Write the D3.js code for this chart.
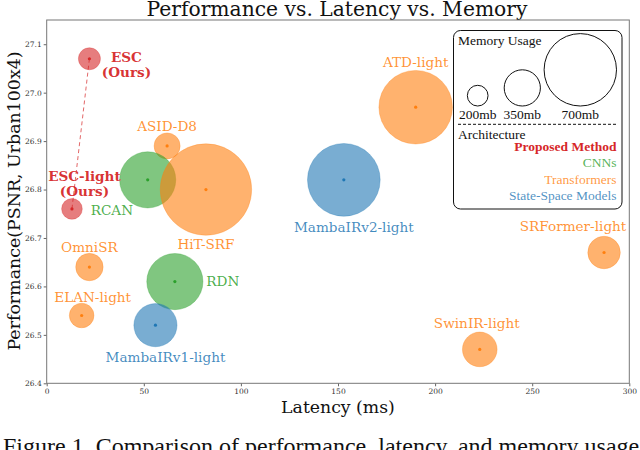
<!DOCTYPE html>
<html><head><meta charset="utf-8">
<script src="https://cdn.jsdelivr.net/npm/d3@7"></script>
<style>body{margin:0;background:#fff}svg{display:block}</style>
</head><body>
<svg id="c" width="640" height="450"></svg>
<script>
// ---- data ----
const models  = ["ESC","ESC-light","ASID-D8","RCAN","HiT-SRF","MambaIRv2-light","ATD-light","OmniSR","ELAN-light","RDN","MambaIRv1-light","SRFormer-light","SwinIR-light"];
const latency = [22, 13, 62, 52, 82, 153, 190, 22, 18, 66, 56, 287, 223];
const psnr    = [27.07, 26.76, 26.89, 26.82, 26.80, 26.82, 26.97, 26.64, 26.54, 26.61, 26.52, 26.67, 26.47];
const memory  = [213, 200, 252, 543, 884, 703, 711, 265, 238, 543, 417, 314, 335];
const arch    = ["Proposed Method","Proposed Method","Transformers","CNNs","Transformers","State-Space Models","Transformers","Transformers","Transformers","CNNs","State-Space Models","Transformers","Transformers"];
const archNames = ["Proposed Method","CNNs","Transformers","State-Space Models"];
const memLegend = [200, 350, 700];
const xTicks = [0, 50, 100, 150, 200, 250, 300];
const yTicks = [26.4, 26.5, 26.6, 26.7, 26.8, 26.9, 27.0, 27.1];

// ---- layout (label offsets from bubble centre, px) ----
const labelLayout = {
  "ESC": {dx: 37, dy: -1.5, anchor: "middle", lines: ["ESC","(Ours)"]},
  "ESC-light": {dx: 12.5, dy: -33, anchor: "middle", lines: ["ESC-light","(Ours)"]},
  "ASID-D8": {dx: 0, dy: -19.5, anchor: "middle"},
  "RCAN": {dx: -57, dy: 30.5, anchor: "start"},
  "HiT-SRF": {dx: 0, dy: 54.5, anchor: "middle"},
  "MambaIRv2-light": {dx: 10, dy: 47, anchor: "middle"},
  "ATD-light": {dx: 0, dy: -45, anchor: "middle"},
  "OmniSR": {dx: 0, dy: -19.7, anchor: "middle"},
  "ELAN-light": {dx: 11, dy: -18.4, anchor: "middle"},
  "RDN": {dx: 31.5, dy: -1, anchor: "start"},
  "MambaIRv1-light": {dx: 10, dy: 32, anchor: "middle"},
  "SRFormer-light": {dx: -31, dy: -26.8, anchor: "middle"},
  "SwinIR-light": {dx: -3, dy: -26.8, anchor: "middle"}
};

const colors = d3.scaleOrdinal().domain(archNames).range(["#d62728","#2ca02c","#ff7f0e","#1f77b4"]);

const svg = d3.select("#c");
const serif = "'DejaVu Serif', serif";
const times = "'Liberation Serif', 'Times New Roman', serif";

const x = d3.scaleLinear().domain([0, 300]).range([46.7, 629.3]);
const y = d3.scaleLinear().domain([26.4, 27.15]).range([383.3, 20]);
const r = d3.scaleLinear().domain([0, 700]).range([0, 36.2]);

// title
svg.append("text").attr("x", 337).attr("y", 16).attr("text-anchor", "middle")
  .attr("font-family", serif).attr("font-size", 20.3).attr("fill", "#111")
  .text("Performance vs. Latency vs. Memory");

// axes
const gx = svg.append("g").attr("transform", "translate(0,383.3)")
  .call(d3.axisBottom(x).tickValues(xTicks).tickSize(3).tickPadding(2).tickFormat(d3.format("d")));
const gy = svg.append("g").attr("transform", "translate(46.7,0)")
  .call(d3.axisLeft(y).tickValues(yTicks).tickSize(3).tickPadding(2).tickFormat(d3.format(".1f")));
[gx, gy].forEach(g => {
  g.select(".domain").remove();
  g.selectAll("line").attr("stroke", "#666");
  g.selectAll("text").attr("font-family", serif).attr("font-size", 7.5).attr("fill", "#333");
});
svg.append("rect").attr("x", x(0)).attr("y", y(27.15)).attr("width", x(300) - x(0)).attr("height", y(26.4) - y(27.15))
  .attr("fill", "none").attr("stroke", "#777").attr("stroke-width", 1);

// axis labels
svg.append("text").attr("x", 338).attr("y", 413).attr("text-anchor", "middle")
  .attr("font-family", serif).attr("font-size", 17.3).attr("fill", "#111").text("Latency (ms)");
svg.append("text").attr("transform", "translate(20,201) rotate(-90)").attr("text-anchor", "middle")
  .attr("font-family", serif).attr("font-size", 17.4).attr("fill", "#111").text("Performance(PSNR, Urban100x4)");

// dashed link between ESC variants
const iE = models.indexOf("ESC"), iL = models.indexOf("ESC-light");
svg.append("line").attr("x1", x(latency[iE])).attr("y1", y(psnr[iE])).attr("x2", x(latency[iL])).attr("y2", y(psnr[iL]))
  .attr("stroke", "#d62728").attr("stroke-opacity", 0.7).attr("stroke-width", 1).attr("stroke-dasharray", "4,3");

// bubbles
const data = models.map((m, i) => ({m, lat: latency[i], p: psnr[i], mem: memory[i], a: arch[i]}));
const g = svg.append("g");
g.selectAll("circle.b").data(data).join("circle").attr("class", "b")
  .attr("cx", d => x(d.lat)).attr("cy", d => y(d.p)).attr("r", d => r(d.mem))
  .attr("fill", d => colors(d.a)).attr("fill-opacity", 0.6)
  .attr("stroke", d => colors(d.a)).attr("stroke-opacity", 0.3).attr("stroke-width", 1);
g.selectAll("circle.d").data(data).join("circle").attr("class", "d")
  .attr("cx", d => x(d.lat)).attr("cy", d => y(d.p)).attr("r", 1.6)
  .attr("fill", d => colors(d.a));

// labels
data.forEach(d => {
  const L = labelLayout[d.m];
  const lines = L.lines || [d.m];
  const bold = d.a === "Proposed Method";
  lines.forEach((t, k) => {
    svg.append("text").attr("x", x(d.lat) + L.dx).attr("y", y(d.p) + L.dy + k * 15 + 5)
      .attr("text-anchor", L.anchor).attr("font-family", serif).attr("font-size", 13.6)
      .attr("font-weight", bold ? "bold" : "normal")
      .attr("fill", colors(d.a)).attr("fill-opacity", bold ? 0.95 : 0.85).text(t);
  });
});

// legend
const lg = svg.append("g");
lg.append("rect").attr("x", 453.5).attr("y", 30.5).attr("width", 168.5).attr("height", 178.5).attr("rx", 7)
  .attr("fill", "#fff").attr("stroke", "#111").attr("stroke-width", 1);
lg.append("text").attr("x", 458).attr("y", 45).attr("font-family", times).attr("font-size", 13.5).attr("fill", "#111").text("Memory Usage");
const legX = d3.scaleOrdinal().domain(memLegend).range([477.7, 522.3, 580.3]);
memLegend.forEach(mv => {
  lg.append("circle").attr("cx", legX(mv)).attr("cy", 106 - r(mv)).attr("r", r(mv))
    .attr("fill", "none").attr("stroke", "#111").attr("stroke-width", 1);
  lg.append("text").attr("x", legX(mv)).attr("y", 119).attr("text-anchor", "middle")
    .attr("font-family", times).attr("font-size", 13.5).attr("fill", "#111").text(mv + "mb");
});
lg.append("line").attr("x1", 458).attr("x2", 616).attr("y1", 124.3).attr("y2", 124.3)
  .attr("stroke", "#111").attr("stroke-dasharray", "3,2");
lg.append("text").attr("x", 458).attr("y", 139).attr("font-family", times).attr("font-size", 13.5).attr("fill", "#111").text("Architecture");
archNames.forEach((a, k) => {
  lg.append("text").attr("x", 616.5).attr("y", 151 + k * 16.4).attr("text-anchor", "end")
    .attr("font-family", times).attr("font-size", 13.5)
    .attr("font-weight", k === 0 ? "bold" : "normal")
    .attr("fill", colors(a)).attr("fill-opacity", k === 0 ? 1 : 0.8).text(a);
});

// caption
svg.append("text").attr("x", 3).attr("y", 453.5).attr("font-family", times).attr("font-size", 24).attr("fill", "#111")
  .text("Figure 1. Comparison of performance, latency, and memory usage");
</script>
</body></html>
